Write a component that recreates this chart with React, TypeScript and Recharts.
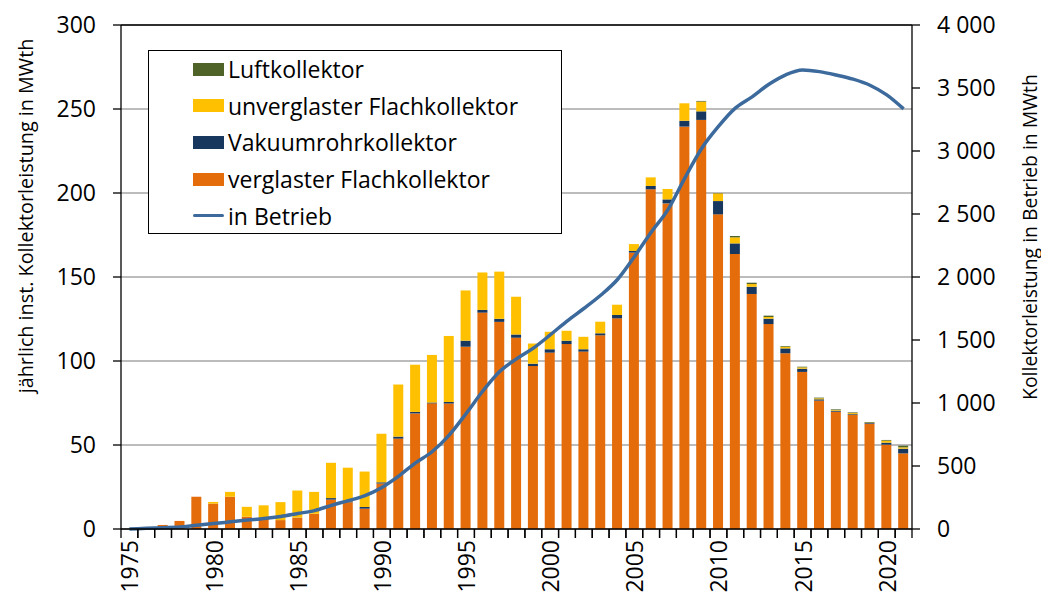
import React from 'react';
import { ComposedChart, Bar, Line, XAxis, YAxis, CartesianGrid, ReferenceLine } from 'recharts';

const years = [
  1975, 1976, 1977, 1978, 1979, 1980, 1981, 1982, 1983, 1984,
  1985, 1986, 1987, 1988, 1989, 1990, 1991, 1992, 1993, 1994,
  1995, 1996, 1997, 1998, 1999, 2000, 2001, 2002, 2003, 2004,
  2005, 2006, 2007, 2008, 2009, 2010, 2011, 2012, 2013, 2014,
  2015, 2016, 2017, 2018, 2019, 2020, 2021,
];

const verglaster = [
  0, 0.6, 2.4, 4.8, 19.2, 15.1, 19.2, 7.3, 6.3, 5.3,
  6.8, 9.1, 17.5, 15.9, 12.1, 27.1, 53.8, 68.8, 74.8, 74.7,
  108.5, 128.8, 123.3, 113.9, 97.0, 105.0, 110.1, 105.6, 115.3, 125.4,
  164.5, 202.2, 193.8, 239.5, 243.5, 187.3, 163.7, 139.9, 122.0, 104.6,
  93.5, 76.4, 69.8, 68.0, 62.7, 50.2, 45.0,
];

const vakuumrohr = [
  0, 0, 0, 0, 0, 0, 0, 0, 0, 0,
  0, 0, 0.9, 0.6, 1.0, 0.7, 1.2, 0.9, 0.5, 0.9,
  3.6, 1.6, 1.8, 1.8, 1.4, 2.0, 2.0, 1.4, 1.2, 2.0,
  1.0, 2.0, 2.4, 3.5, 5.1, 7.9, 6.3, 4.3, 3.2, 2.9,
  1.9, 0.8, 0.6, 0.4, 0.4, 1.2, 2.8,
];

const unverglaster = [
  0, 0, 0, 0, 0, 1.0, 2.9, 5.9, 7.8, 10.7,
  16.1, 13.0, 21.0, 20.0, 21.1, 28.9, 31.0, 28.1, 28.3, 39.3,
  29.9, 22.3, 28.1, 22.6, 12.0, 10.4, 5.9, 7.4, 6.9, 6.1,
  4.1, 5.1, 6.2, 10.4, 5.8, 4.6, 3.6, 1.6, 1.0, 1.0,
  0.8, 0.6, 0.4, 0.6, 0.2, 1.2, 0.8,
];

const luftkollektor = [
  0, 0, 0, 0, 0, 0, 0, 0, 0, 0,
  0, 0, 0, 0, 0, 0, 0, 0, 0, 0,
  0, 0, 0, 0, 0, 0, 0, 0, 0, 0,
  0, 0, 0, 0, 0.4, 0.2, 0.8, 0.8, 0.8, 0.4,
  0.4, 0.4, 0.4, 0.4, 0.4, 0.4, 1.0,
];

const inBetrieb = [
  0, 5, 10, 15, 30, 43, 57, 71, 83, 100,
  123, 146, 188, 225, 265, 330, 420, 525, 615, 745,
  915, 1095, 1250, 1350, 1435, 1540, 1650, 1750, 1855, 1980,
  2160, 2355, 2535, 2785, 3020, 3195, 3340, 3430, 3530, 3605,
  3643, 3630, 3603, 3570, 3522, 3445, 3334,
];

const leftTicks = [0, 50, 100, 150, 200, 250, 300];
const rightTicks = [0, 500, 1000, 1500, 2000, 2500, 3000, 3500, 4000];

const leftTitle = 'jährlich inst. Kollektorleistung in MWth';
const rightTitle = 'Kollektorleistung in Betrieb in MWth';

const COLORS = {
  verglaster: '#E46C0A',
  vakuumrohr: '#17375E',
  unverglaster: '#FFC000',
  luftkollektor: '#4F6228',
  inBetrieb: '#3C6A9C',
};

const legendItems = [
  { key: 'luftkollektor', label: 'Luftkollektor', type: 'rect' },
  { key: 'unverglaster', label: 'unverglaster Flachkollektor', type: 'rect' },
  { key: 'vakuumrohr', label: 'Vakuumrohrkollektor', type: 'rect' },
  { key: 'verglaster', label: 'verglaster Flachkollektor', type: 'rect' },
  { key: 'inBetrieb', label: 'in Betrieb', type: 'line' },
];

const FONT = '"Open Sans", "Noto Sans", sans-serif';
const W = 1041;
const H = 598;

const fmtRight = (v: number) => {
  const s = String(v);
  if (s.length > 3) return s.slice(0, s.length - 3) + ' ' + s.slice(s.length - 3);
  return s;
};

const XTick = (props: any) => {
  const { x, y, payload } = props;
  const half = payload && typeof payload.offset === 'number' && payload.offset > 0 ? payload.offset : 790 / 47 / 2;
  const yr = Number(payload.value);
  return (
    <g>
      <line x1={x - half} x2={x - half} y1={y} y2={y + 9} stroke="#000" strokeWidth={1.3} />
      <line x1={x + half} x2={x + half} y1={y} y2={y + 9} stroke="#000" strokeWidth={1.3} />
      {yr % 5 === 0 && (
        <text
          x={x}
          y={y + 11}
          transform={`rotate(-90 ${x} ${y + 11})`}
          textAnchor="end"
          dominantBaseline="central"
          fontSize={23}
          fontFamily={FONT}
          fill="#000"
        >
          {yr}
        </text>
      )}
    </g>
  );
};

export default function App() {
  const data = years.map((year, i) => ({
    year,
    verglaster: verglaster[i],
    vakuumrohr: vakuumrohr[i],
    unverglaster: unverglaster[i],
    luftkollektor: luftkollektor[i],
    inBetrieb: inBetrieb[i],
  }));

  return (
    <div style={{ position: 'absolute', left: 0, top: 0, width: W, height: H, background: '#fff', fontFamily: FONT }}>
      <ComposedChart width={W} height={H} data={data} margin={{ top: 25, right: 0, bottom: 0, left: 0 }} barSize={10}>
        <CartesianGrid yAxisId="left" vertical={false} stroke="#A6A6A6" strokeWidth={1.3} />
        <XAxis
          dataKey="year"
          height={69}
          interval={0}
          tickLine={false}
          tickSize={0}
          tickMargin={0}
          axisLine={{ stroke: '#000', strokeWidth: 1.3 }}
          tick={<XTick />}
        />
        <YAxis
          yAxisId="left"
          width={121}
          domain={[0, 300]}
          ticks={leftTicks}
          interval={0}
          tickSize={8}
          tickMargin={17}
          axisLine={{ stroke: '#000', strokeWidth: 1.3 }}
          tickLine={{ stroke: '#000', strokeWidth: 1.3 }}
          tick={{ fontSize: 23, fill: '#000', fontFamily: FONT }}
          label={() => (
            <text
              x={25}
              y={216}
              transform="rotate(-90 25 216)"
              textAnchor="middle"
              dominantBaseline="central"
              fontSize={19.8}
              fontFamily={FONT}
              fill="#000"
            >
              {leftTitle}
            </text>
          )}
        />
        <YAxis
          yAxisId="right"
          orientation="right"
          width={129}
          domain={[0, 4000]}
          ticks={rightTicks}
          interval={0}
          tickFormatter={fmtRight}
          tickSize={8}
          tickMargin={17}
          axisLine={{ stroke: '#000', strokeWidth: 1.3 }}
          tickLine={{ stroke: '#000', strokeWidth: 1.3 }}
          tick={{ fontSize: 23, fill: '#000', fontFamily: FONT }}
          label={() => (
            <text
              x={1029}
              y={237}
              transform="rotate(-90 1029 237)"
              textAnchor="middle"
              dominantBaseline="central"
              fontSize={19.4}
              fontFamily={FONT}
              fill="#000"
            >
              {rightTitle}
            </text>
          )}
        />
        <ReferenceLine yAxisId="left" y={300} stroke="#000" strokeWidth={1.3} />
        <Bar yAxisId="left" dataKey="verglaster" stackId="s" fill={COLORS.verglaster} isAnimationActive={false} />
        <Bar yAxisId="left" dataKey="vakuumrohr" stackId="s" fill={COLORS.vakuumrohr} isAnimationActive={false} />
        <Bar yAxisId="left" dataKey="unverglaster" stackId="s" fill={COLORS.unverglaster} isAnimationActive={false} />
        <Bar yAxisId="left" dataKey="luftkollektor" stackId="s" fill={COLORS.luftkollektor} isAnimationActive={false} />
        <Line
          yAxisId="right"
          type="monotone"
          dataKey="inBetrieb"
          stroke={COLORS.inBetrieb}
          strokeWidth={3.5}
          dot={false}
          activeDot={false}
          isAnimationActive={false}
        />
      </ComposedChart>
      <div
        style={{
          position: 'absolute',
          left: 148,
          top: 50,
          width: 414,
          height: 184,
          boxSizing: 'border-box',
          border: '1.5px solid #000',
          background: '#fff',
        }}
      >
        {legendItems.map((it, i) => (
          <div
            key={it.key}
            style={{
              position: 'absolute',
              left: 0,
              top: 18 + i * 36.7 - 15,
              height: 30,
              display: 'flex',
              alignItems: 'center',
            }}
          >
            <div style={{ width: 44 }} />
            {it.type === 'rect' ? (
              <div style={{ width: 31, height: 13, background: (COLORS as any)[it.key] }} />
            ) : (
              <div style={{ width: 31, height: 3, borderRadius: 2, background: (COLORS as any)[it.key] }} />
            )}
            <span style={{ marginLeft: 4, fontSize: 23, lineHeight: '30px', color: '#000', whiteSpace: 'nowrap' }}>{it.label}</span>
          </div>
        ))}
      </div>
    </div>
  );
}
